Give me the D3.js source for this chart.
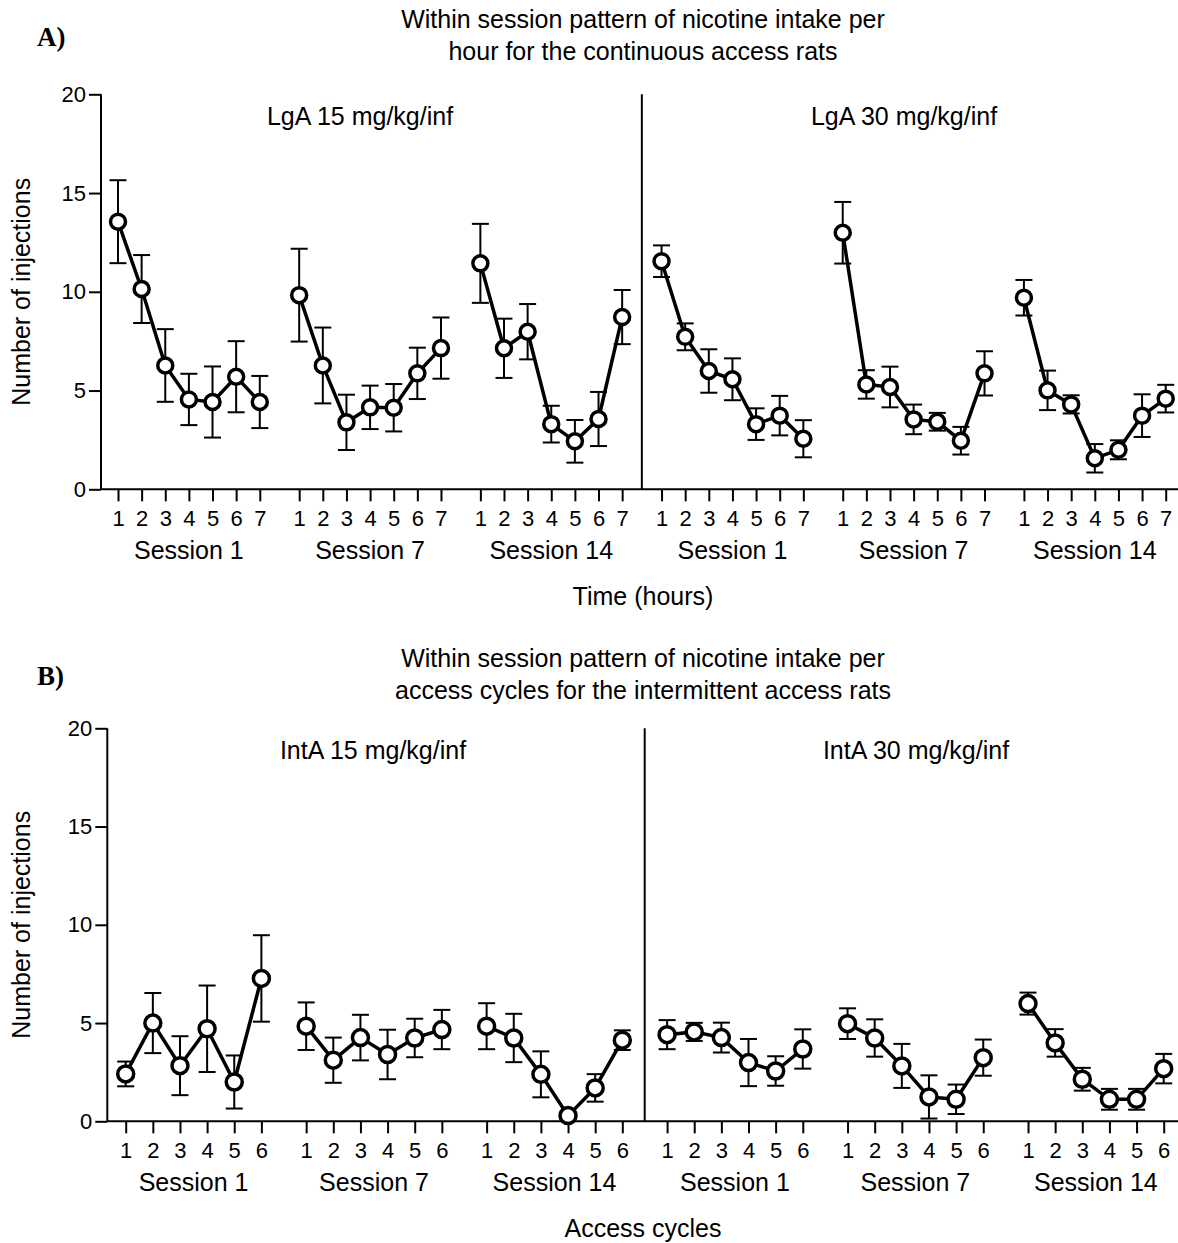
<!DOCTYPE html>
<html>
<head>
<meta charset="utf-8">
<script src="https://cdn.jsdelivr.net/npm/d3@7"></script>
<style>
  body { margin: 0; background: #fff; }
  svg { display: block; font-family: "Liberation Sans", Arial, Helvetica, sans-serif; }
</style>
</head>
<body>
<svg id="chart" width="1178" height="1243"></svg>
<script>
// data (mean and SEM, number of injections)
var sessions = ["Session 1", "Session 7", "Session 14"];
var hours = [1, 2, 3, 4, 5, 6, 7];
var cycles = [1, 2, 3, 4, 5, 6];
var yTicks = [0, 5, 10, 15, 20];

var lga15Mean = [[13.55, 10.14, 6.27, 4.55, 4.42, 5.70, 4.42],
                 [9.83, 6.27, 3.39, 4.15, 4.13, 5.87, 7.15],
                 [11.44, 7.14, 7.98, 3.30, 2.43, 3.56, 8.72]];
var lga15Sem  = [[2.1, 1.72, 1.84, 1.3, 1.8, 1.8, 1.32],
                 [2.35, 1.92, 1.4, 1.1, 1.2, 1.3, 1.55],
                 [2.0, 1.5, 1.4, 0.93, 1.08, 1.37, 1.37]];
var lga30Mean = [[11.55, 7.72, 5.99, 5.57, 3.30, 3.73, 2.56],
                 [12.99, 5.31, 5.18, 3.54, 3.42, 2.46, 5.87],
                 [9.70, 5.01, 4.30, 1.57, 2.00, 3.73, 4.59]];
var lga30Sem  = [[0.8, 0.68, 1.1, 1.06, 0.8, 1.0, 0.94],
                 [1.56, 0.72, 1.03, 0.75, 0.45, 0.7, 1.12],
                 [0.9, 1.0, 0.46, 0.72, 0.48, 1.08, 0.7]];

var inta15Mean = [[2.41, 5.00, 2.83, 4.71, 2.00, 7.27],
                  [4.84, 3.11, 4.26, 3.40, 4.24, 4.67],
                  [4.84, 4.24, 2.39, 0.29, 1.70, 4.13]];
var inta15Sem  = [[0.63, 1.53, 1.5, 2.2, 1.35, 2.2],
                  [1.21, 1.15, 1.16, 1.26, 0.98, 1.0],
                  [1.17, 1.23, 1.17, 0.2, 0.7, 0.5]];
var inta30Mean = [[4.41, 4.55, 4.26, 2.99, 2.56, 3.68],
                  [4.97, 4.24, 2.82, 1.24, 1.12, 3.24],
                  [5.99, 3.99, 2.14, 1.12, 1.12, 2.68]];
var inta30Sem  = [[0.74, 0.46, 0.76, 1.2, 0.75, 1.0],
                  [0.78, 0.95, 1.12, 1.1, 0.75, 0.92],
                  [0.56, 0.7, 0.58, 0.53, 0.53, 0.75]];

var svg = d3.select("#chart");
svg.append("rect").attr("width", 1178).attr("height", 1243).attr("fill", "#fff");

function drawPanel(p) {
    var n = p.steps.length;
    var groupLen = n - 1 + p.gap;
    // slot position of point i in group g (6 groups: 3 sessions x 2 doses)
    function slot(g, i) { return g * groupLen + i; }
    var x = d3.scaleLinear().domain([0, slot(5, n - 1)]).range([p.x0, p.x1]);
    var y = d3.scaleLinear().domain([0, 20]).range([p.yBottom, p.yTop]);

    var g = svg.append("g");

    // titles
    g.append("text").attr("x", 37).attr("y", p.titleY + 18)
        .style("font-family", "'Liberation Serif', 'Times New Roman', serif")
        .style("font-weight", "bold").style("font-size", "27px").text(p.letter);
    p.title.forEach(function(t, k) {
        g.append("text").attr("x", 643).attr("y", p.titleY + k * 32)
            .attr("text-anchor", "middle").style("font-size", "25px").text(t);
    });

    // axes
    var slots = [], slotLabels = {};
    for (var gi = 0; gi < 6; gi++) {
        p.steps.forEach(function(s, i) { slots.push(slot(gi, i)); slotLabels[slot(gi, i)] = s; });
    }
    var xAxis = d3.axisBottom(x).tickValues(slots).tickSize(12).tickPadding(9)
        .tickFormat(function(d) { return slotLabels[d]; });
    var gx = g.append("g").attr("transform", "translate(0," + p.yBottom + ")").call(xAxis);
    gx.select(".domain").remove();
    gx.append("line").attr("x1", p.axisX).attr("x2", 1178).attr("stroke", "#000").attr("stroke-width", 2);
    gx.selectAll(".tick line").attr("stroke-width", 2);
    gx.selectAll(".tick text").style("font-size", "22px").attr("fill", "#000");

    var yAxis = d3.axisLeft(y).tickValues(yTicks).tickSize(12).tickPadding(3);
    var gy = g.append("g").attr("transform", "translate(" + p.axisX + ",0)").call(yAxis);
    gy.select(".domain").attr("stroke-width", 2).attr("d", "M0," + p.yTop + "V" + p.yBottom);
    gy.selectAll(".tick line").attr("stroke-width", 2);
    gy.selectAll(".tick text").style("font-size", "22px").attr("fill", "#000");

    // divider between the two doses
    var xd = x(slot(3, 0) - p.gap / 2);
    g.append("line").attr("x1", xd).attr("x2", xd).attr("y1", p.yTop).attr("y2", p.yBottom)
        .attr("stroke", "#000").attr("stroke-width", 2);

    // dose labels
    g.append("text").attr("x", p.doseX[0]).attr("y", p.yTop + 31).attr("text-anchor", "middle")
        .style("font-size", "25px").text(p.doses[0]);
    g.append("text").attr("x", p.doseX[1]).attr("y", p.yTop + 31).attr("text-anchor", "middle")
        .style("font-size", "25px").text(p.doses[1]);

    // session labels
    for (var gi2 = 0; gi2 < 6; gi2++) {
        g.append("text").attr("x", (x(slot(gi2, 0)) + x(slot(gi2, n - 1))) / 2)
            .attr("y", p.yBottom + 70).attr("text-anchor", "middle")
            .style("font-size", "25px").text(sessions[gi2 % 3]);
    }
    g.append("text").attr("x", 643).attr("y", p.yBottom + 116).attr("text-anchor", "middle")
        .style("font-size", "25px").text(p.xTitle);
    g.append("text").attr("transform", "translate(30," + (p.yTop + p.yBottom) / 2 + ") rotate(-90)")
        .attr("text-anchor", "middle").style("font-size", "25px").text("Number of injections");

    // series
    var line = d3.line().x(function(d) { return x(d.s); }).y(function(d) { return y(d.m); });
    [p.means[0], p.means[1]].forEach(function(doseMeans, di) {
        doseMeans.forEach(function(arr, si) {
            var grp = di * 3 + si;
            var pts = arr.map(function(m, i) {
                return { s: slot(grp, i), m: m, e: p.sems[di][si][i] };
            });
            var eg = g.append("g").attr("stroke", "#000").attr("stroke-width", 2);
            pts.forEach(function(d) {
                var cx = x(d.s);
                eg.append("line").attr("x1", cx).attr("x2", cx).attr("y1", y(d.m - d.e)).attr("y2", y(d.m + d.e));
                eg.append("line").attr("x1", cx - 8.5).attr("x2", cx + 8.5).attr("y1", y(d.m + d.e)).attr("y2", y(d.m + d.e));
                eg.append("line").attr("x1", cx - 8.5).attr("x2", cx + 8.5).attr("y1", y(d.m - d.e)).attr("y2", y(d.m - d.e));
            });
            g.append("path").datum(pts).attr("d", line).attr("fill", "none")
                .attr("stroke", "#000").attr("stroke-width", 3.5);
            g.selectAll(null).data(pts).enter().append("circle")
                .attr("cx", function(d) { return x(d.s); })
                .attr("cy", function(d) { return y(d.m); })
                .attr("r", p.r).attr("fill", "#fff").attr("stroke", "#000").attr("stroke-width", 3.5);
        });
    });
}

drawPanel({
    letter: "A)", titleY: 28,
    title: ["Within session pattern of nicotine intake per", "hour for the continuous access rats"],
    doses: ["LgA 15 mg/kg/inf", "LgA 30 mg/kg/inf"], doseX: [360, 904],
    xTitle: "Time (hours)",
    steps: hours, gap: 1.667,
    axisX: 101, x0: 118, x1: 1165.7, yTop: 94.3, yBottom: 489.3, r: 7.5,
    means: [lga15Mean, lga30Mean], sems: [lga15Sem, lga30Sem]
});

drawPanel({
    letter: "B)", titleY: 667,
    title: ["Within session pattern of nicotine intake per", "access cycles for the intermittent access rats"],
    doses: ["IntA 15 mg/kg/inf", "IntA 30 mg/kg/inf"], doseX: [373, 916],
    xTitle: "Access cycles",
    steps: cycles, gap: 1.65,
    axisX: 107.3, x0: 125.7, x1: 1163.7, yTop: 728.3, yBottom: 1121.3, r: 8,
    means: [inta15Mean, inta30Mean], sems: [inta15Sem, inta30Sem]
});
</script>
</body>
</html>
